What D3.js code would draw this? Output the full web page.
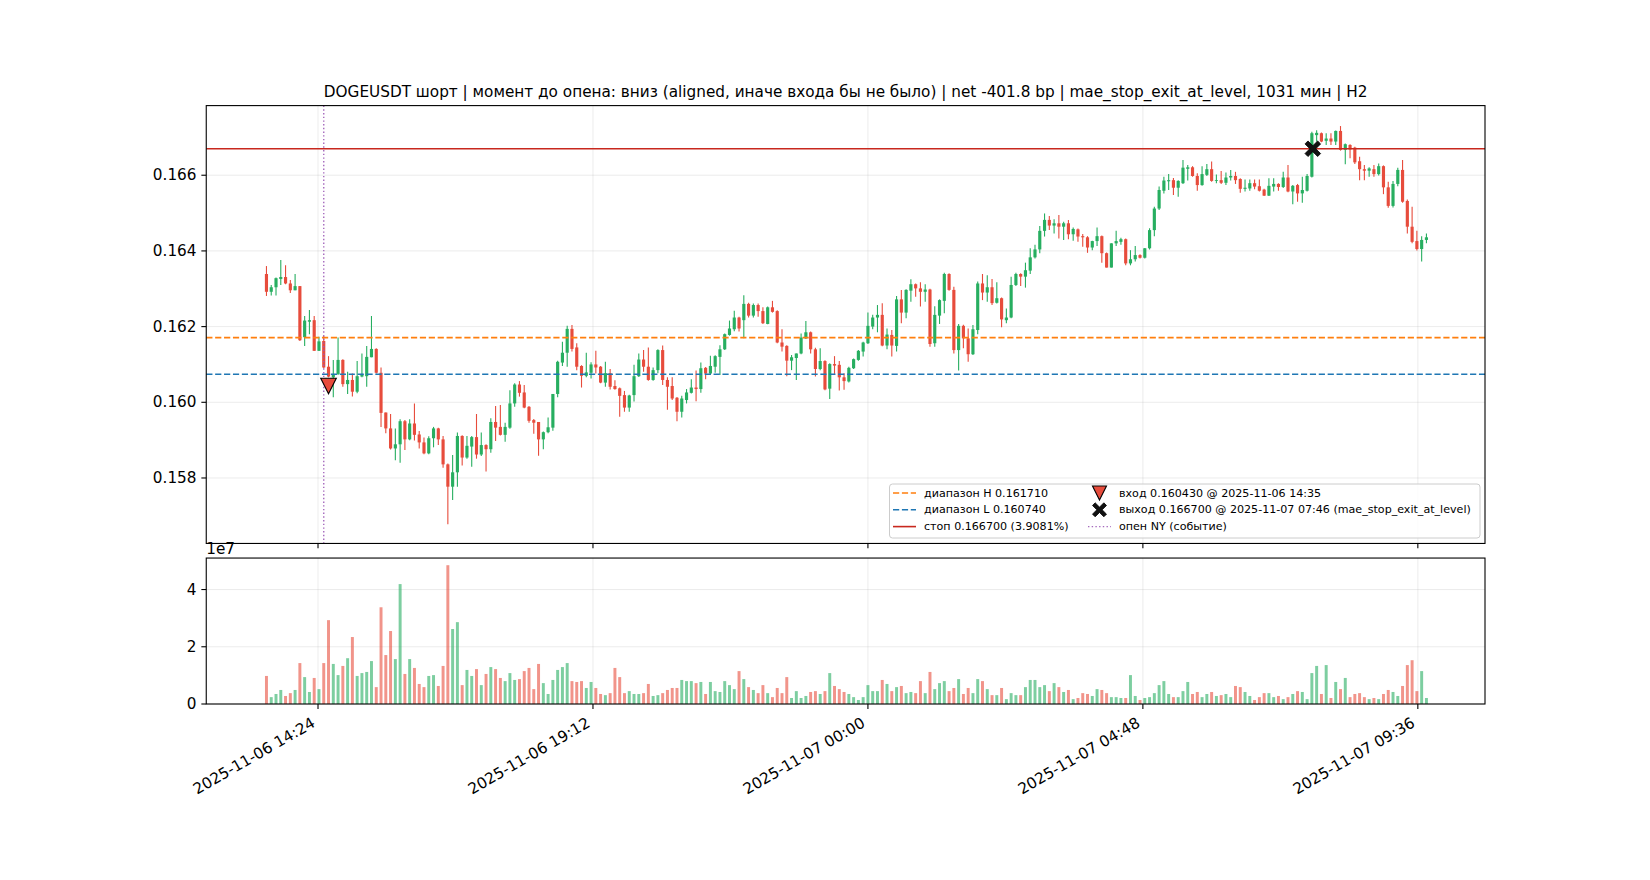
<!DOCTYPE html>
<html><head><meta charset="utf-8">
<script src="https://cdn.jsdelivr.net/npm/d3@7"></script>
<style>body{margin:0;background:#fff}svg{display:block}text{font-family:"DejaVu Sans",sans-serif;fill:#000}</style>
</head><body><svg id="c" width="1650" height="880"></svg>
<script>
// ---------------- data ----------------
const startTime = "2025-11-06 13:30";
const stepMinutes = 5;
const opens = [
0.16339,0.16292,0.16304,0.16326,0.16331,0.16314,0.16296,0.16307,0.16172,0.16213,
0.16217,0.16136,0.16162,0.16094,0.16066,0.16075,0.16112,0.16048,0.16059,0.16028,
0.16068,0.16069,0.16119,0.16141,0.16078,0.15973,0.15931,0.15878,0.15889,0.15950,
0.15902,0.15944,0.15915,0.15894,0.15865,0.15905,0.15931,0.15902,0.15836,0.15777,
0.15815,0.15911,0.15854,0.15883,0.15908,0.15862,0.15887,0.15876,0.15948,0.15935,
0.15914,0.15933,0.15997,0.16047,0.16026,0.15988,0.15953,0.15948,0.15902,0.15921,
0.15933,0.16022,0.16105,0.16131,0.16194,0.16145,0.16096,0.16070,0.16078,0.16100,
0.16094,0.16052,0.16077,0.16043,0.16037,0.16019,0.15986,0.16019,0.16069,0.16113,
0.16094,0.16059,0.16085,0.16138,0.16059,0.16043,0.16012,0.15975,0.16006,0.16025,
0.16039,0.16035,0.16091,0.16076,0.16094,0.16120,0.16140,0.16178,0.16193,0.16224,
0.16217,0.16260,0.16229,0.16257,0.16241,0.16207,0.16251,0.16241,0.16158,0.16149,
0.16110,0.16117,0.16129,0.16169,0.16185,0.16140,0.16088,0.16109,0.16036,0.16101,
0.16099,0.16066,0.16055,0.16090,0.16112,0.16134,0.16156,0.16200,0.16224,0.16231,
0.16150,0.16178,0.16149,0.16272,0.16237,0.16295,0.16312,0.16301,0.16292,0.16298,
0.16156,0.16229,0.16268,0.16339,0.16297,0.16138,0.16202,0.16169,0.16127,0.16191,
0.16314,0.16290,0.16304,0.16263,0.16275,0.16217,0.16224,0.16310,0.16339,0.16332,
0.16348,0.16383,0.16404,0.16453,0.16482,0.16467,0.16473,0.16464,0.16473,0.16444,
0.16457,0.16439,0.16436,0.16409,0.16426,0.16439,0.16394,0.16356,0.16420,0.16424,
0.16431,0.16367,0.16378,0.16389,0.16382,0.16407,0.16455,0.16512,0.16559,0.16584,
0.16587,0.16567,0.16579,0.16617,0.16621,0.16598,0.16574,0.16601,0.16616,0.16585,
0.16587,0.16580,0.16594,0.16598,0.16590,0.16564,0.16565,0.16579,0.16571,0.16562,
0.16546,0.16570,0.16577,0.16569,0.16594,0.16557,0.16574,0.16552,0.16559,0.16596,
0.16706,0.16711,0.16691,0.16697,0.16689,0.16717,0.16667,0.16680,0.16673,0.16637,
0.16616,0.16612,0.16616,0.16603,0.16624,0.16568,0.16519,0.16577,0.16614,0.16532,
0.16464,0.16426,0.16405,0.16429];
const highs = [
0.16360,0.16310,0.16330,0.16376,0.16362,0.16323,0.16339,0.16307,0.16228,0.16244,
0.16228,0.16173,0.16175,0.16122,0.16112,0.16171,0.16114,0.16081,0.16076,0.16109,
0.16129,0.16149,0.16228,0.16143,0.16092,0.15973,0.15969,0.15931,0.15955,0.15953,
0.15955,0.15997,0.15924,0.15907,0.15910,0.15935,0.15933,0.15911,0.15838,0.15861,
0.15920,0.15913,0.15911,0.15911,0.15969,0.15920,0.15889,0.15958,0.15990,0.15993,
0.15946,0.16032,0.16050,0.16056,0.16046,0.15990,0.15956,0.15948,0.15923,0.15960,
0.16022,0.16110,0.16160,0.16202,0.16204,0.16156,0.16098,0.16131,0.16106,0.16136,
0.16096,0.16107,0.16088,0.16058,0.16039,0.16030,0.16020,0.16099,0.16129,0.16138,
0.16145,0.16092,0.16140,0.16150,0.16066,0.16066,0.16014,0.16017,0.16035,0.16061,
0.16084,0.16105,0.16093,0.16123,0.16124,0.16151,0.16182,0.16216,0.16242,0.16226,
0.16283,0.16263,0.16261,0.16261,0.16251,0.16253,0.16268,0.16243,0.16193,0.16151,
0.16125,0.16129,0.16182,0.16215,0.16187,0.16144,0.16143,0.16111,0.16103,0.16122,
0.16109,0.16077,0.16094,0.16116,0.16138,0.16160,0.16237,0.16231,0.16257,0.16262,
0.16195,0.16191,0.16281,0.16297,0.16299,0.16325,0.16314,0.16317,0.16312,0.16300,
0.16254,0.16272,0.16342,0.16341,0.16305,0.16207,0.16205,0.16195,0.16204,0.16319,
0.16339,0.16336,0.16326,0.16317,0.16277,0.16248,0.16332,0.16342,0.16341,0.16369,
0.16407,0.16416,0.16466,0.16499,0.16492,0.16484,0.16495,0.16477,0.16482,0.16462,
0.16459,0.16445,0.16439,0.16427,0.16462,0.16441,0.16396,0.16420,0.16453,0.16435,
0.16433,0.16402,0.16413,0.16391,0.16408,0.16460,0.16517,0.16570,0.16596,0.16603,
0.16593,0.16587,0.16640,0.16627,0.16624,0.16605,0.16624,0.16630,0.16636,0.16602,
0.16611,0.16607,0.16614,0.16609,0.16592,0.16589,0.16589,0.16589,0.16589,0.16564,
0.16592,0.16592,0.16579,0.16609,0.16627,0.16574,0.16577,0.16596,0.16603,0.16715,
0.16719,0.16713,0.16711,0.16711,0.16718,0.16730,0.16684,0.16682,0.16675,0.16649,
0.16627,0.16621,0.16627,0.16631,0.16626,0.16583,0.16585,0.16620,0.16640,0.16536,
0.16517,0.16453,0.16439,0.16446];
const lows = [
0.16281,0.16282,0.16282,0.16310,0.16312,0.16289,0.16296,0.16162,0.16149,0.16180,
0.16136,0.16136,0.16090,0.16066,0.16013,0.16072,0.16041,0.16022,0.16015,0.16024,
0.16066,0.16041,0.16119,0.16076,0.15935,0.15918,0.15875,0.15847,0.15840,0.15874,
0.15900,0.15899,0.15878,0.15863,0.15863,0.15881,0.15887,0.15827,0.15678,0.15742,
0.15777,0.15833,0.15851,0.15830,0.15851,0.15858,0.15817,0.15867,0.15898,0.15912,
0.15896,0.15930,0.15988,0.16015,0.15984,0.15946,0.15917,0.15859,0.15876,0.15918,
0.15925,0.16013,0.16096,0.16094,0.16134,0.16085,0.16039,0.16066,0.16063,0.16076,
0.16050,0.16041,0.16034,0.16033,0.15962,0.15975,0.15975,0.16002,0.16067,0.16081,
0.16057,0.16057,0.16077,0.16046,0.15980,0.16006,0.15950,0.15960,0.15997,0.16023,
0.16003,0.16025,0.16061,0.16072,0.16078,0.16072,0.16138,0.16176,0.16188,0.16187,
0.16169,0.16224,0.16224,0.16226,0.16207,0.16206,0.16237,0.16156,0.16134,0.16069,
0.16085,0.16059,0.16127,0.16167,0.16129,0.16068,0.16085,0.16032,0.16009,0.16075,
0.16031,0.16033,0.16052,0.16088,0.16110,0.16121,0.16154,0.16193,0.16185,0.16148,
0.16140,0.16121,0.16134,0.16209,0.16222,0.16266,0.16279,0.16253,0.16266,0.16147,
0.16147,0.16207,0.16235,0.16295,0.16129,0.16084,0.16143,0.16107,0.16125,0.16180,
0.16270,0.16266,0.16257,0.16261,0.16198,0.16209,0.16222,0.16307,0.16307,0.16303,
0.16339,0.16380,0.16394,0.16438,0.16455,0.16446,0.16433,0.16429,0.16431,0.16427,
0.16424,0.16411,0.16395,0.16402,0.16413,0.16369,0.16356,0.16356,0.16413,0.16416,
0.16362,0.16362,0.16372,0.16380,0.16380,0.16404,0.16439,0.16508,0.16552,0.16561,
0.16548,0.16543,0.16577,0.16586,0.16596,0.16559,0.16572,0.16598,0.16583,0.16579,
0.16577,0.16574,0.16586,0.16577,0.16554,0.16557,0.16559,0.16563,0.16557,0.16545,
0.16545,0.16557,0.16559,0.16566,0.16555,0.16523,0.16530,0.16527,0.16557,0.16594,
0.16689,0.16687,0.16680,0.16680,0.16680,0.16665,0.16629,0.16645,0.16630,0.16587,
0.16587,0.16596,0.16596,0.16599,0.16550,0.16514,0.16515,0.16571,0.16527,0.16446,
0.16420,0.16401,0.16372,0.16420];
const closes = [
0.16292,0.16304,0.16328,0.16331,0.16314,0.16296,0.16307,0.16164,0.16216,0.16217,
0.16136,0.16161,0.16092,0.16068,0.16075,0.16112,0.16048,0.16059,0.16028,0.16069,
0.16075,0.16120,0.16141,0.16078,0.15972,0.15931,0.15878,0.15889,0.15950,0.15902,
0.15944,0.15914,0.15894,0.15865,0.15905,0.15931,0.15902,0.15836,0.15777,0.15815,
0.15911,0.15854,0.15885,0.15908,0.15862,0.15887,0.15876,0.15948,0.15933,0.15914,
0.15935,0.15997,0.16047,0.16025,0.15986,0.15951,0.15946,0.15902,0.15921,0.15934,
0.16022,0.16107,0.16131,0.16194,0.16141,0.16094,0.16070,0.16079,0.16100,0.16092,
0.16052,0.16077,0.16041,0.16035,0.16017,0.15986,0.16018,0.16069,0.16113,0.16094,
0.16059,0.16085,0.16138,0.16059,0.16041,0.16010,0.15975,0.16010,0.16026,0.16039,
0.16035,0.16090,0.16076,0.16096,0.16122,0.16140,0.16180,0.16195,0.16224,0.16195,
0.16260,0.16229,0.16257,0.16241,0.16209,0.16251,0.16239,0.16158,0.16147,0.16110,
0.16119,0.16129,0.16171,0.16185,0.16140,0.16088,0.16109,0.16034,0.16101,0.16097,
0.16066,0.16056,0.16091,0.16114,0.16136,0.16158,0.16202,0.16224,0.16231,0.16150,
0.16179,0.16150,0.16272,0.16237,0.16297,0.16312,0.16301,0.16292,0.16298,0.16154,
0.16231,0.16270,0.16339,0.16297,0.16138,0.16202,0.16169,0.16127,0.16193,0.16314,
0.16290,0.16304,0.16262,0.16275,0.16219,0.16224,0.16310,0.16339,0.16332,0.16349,
0.16383,0.16404,0.16453,0.16482,0.16467,0.16473,0.16464,0.16473,0.16444,0.16458,
0.16438,0.16436,0.16409,0.16426,0.16439,0.16394,0.16356,0.16420,0.16426,0.16431,
0.16367,0.16378,0.16389,0.16382,0.16407,0.16455,0.16512,0.16561,0.16586,0.16587,
0.16567,0.16585,0.16620,0.16621,0.16598,0.16574,0.16603,0.16616,0.16585,0.16587,
0.16580,0.16594,0.16598,0.16587,0.16564,0.16567,0.16579,0.16570,0.16559,0.16546,
0.16572,0.16577,0.16569,0.16594,0.16557,0.16572,0.16552,0.16561,0.16598,0.16711,
0.16712,0.16689,0.16697,0.16689,0.16717,0.16667,0.16682,0.16668,0.16634,0.16616,
0.16612,0.16618,0.16603,0.16624,0.16568,0.16519,0.16577,0.16614,0.16530,0.16464,
0.16424,0.16405,0.16429,0.16436];
// volume, in units of 1e7
const volumes = [
0.98,0.24,0.35,0.49,0.28,0.38,0.49,1.43,0.94,0.42,
0.91,0.52,1.43,2.93,1.40,1.01,1.33,1.60,2.34,0.98,
1.08,1.12,1.50,0.59,3.38,1.71,2.55,1.57,4.19,1.05,
1.57,1.26,0.70,0.59,0.98,1.01,0.63,1.33,4.85,2.62,
2.86,0.66,1.19,0.98,1.22,0.66,1.05,1.29,1.22,0.91,
0.80,1.08,0.84,0.87,1.15,1.26,0.52,1.40,0.73,0.35,
0.84,1.19,1.29,1.43,0.80,0.77,0.80,0.56,0.77,0.56,
0.35,0.31,0.38,1.26,0.94,0.38,0.45,0.35,0.35,0.38,
0.70,0.28,0.31,0.38,0.49,0.56,0.56,0.84,0.80,0.80,
0.73,0.77,0.35,0.77,0.45,0.42,0.80,0.66,0.52,1.15,
0.87,0.59,0.49,0.38,0.66,0.38,0.24,0.56,0.38,0.94,
0.21,0.45,0.21,0.28,0.42,0.45,0.35,0.45,1.08,0.63,
0.52,0.42,0.35,0.24,0.14,0.24,0.66,0.45,0.45,0.84,
0.70,0.45,0.59,0.63,0.38,0.42,0.38,0.80,0.38,1.12,
0.52,0.73,0.80,0.45,0.56,0.87,0.35,0.56,0.38,0.87,
0.80,0.52,0.31,0.31,0.56,0.17,0.38,0.31,0.31,0.59,
0.84,0.84,0.59,0.66,0.45,0.73,0.59,0.42,0.49,0.17,
0.21,0.38,0.35,0.28,0.52,0.49,0.38,0.24,0.24,0.21,
0.21,1.01,0.28,0.14,0.21,0.24,0.38,0.66,0.80,0.35,
0.24,0.24,0.45,0.77,0.35,0.42,0.24,0.35,0.42,0.28,
0.31,0.35,0.24,0.63,0.59,0.42,0.28,0.14,0.24,0.38,
0.38,0.24,0.28,0.17,0.24,0.35,0.45,0.42,0.17,1.08,
1.33,0.35,1.36,0.21,0.77,0.52,0.91,0.24,0.35,0.38,
0.24,0.17,0.21,0.17,0.35,0.49,0.42,0.28,0.63,1.36,
1.53,0.45,1.15,0.21];
const xTickLabels = ["2025-11-06 14:24","2025-11-06 19:12","2025-11-07 00:00","2025-11-07 04:48","2025-11-07 09:36"];
const priceTicks = [0.158,0.160,0.162,0.164,0.166];
const priceTickLabels = ["0.158","0.160","0.162","0.164","0.166"];
const volTicks = [0,2,4];
const volTickLabels = ["0","2","4"];
const levelNames = ["диапазон H 0.161710","диапазон L 0.160740","стоп 0.166700 (3.9081%)"];
const levelValues = [0.161710,0.160740,0.166700];
const entryTime = "2025-11-06 14:35", entryPrice = 0.160430;
const exitTime = "2025-11-07 07:46", exitPrice = 0.166700;
const nyOpenTime = "2025-11-06 14:30";
const entryLabel = "вход 0.160430 @ 2025-11-06 14:35";
const exitLabel = "выход 0.166700 @ 2025-11-07 07:46 (mae_stop_exit_at_level)";
const nyLabel = "опен NY (событие)";
const titleText = "DOGEUSDT шорт | момент до опена: вниз (aligned, иначе входа бы не было) | net -401.8 bp | mae_stop_exit_at_level, 1031 мин | H2";

// ---------------- layout ----------------
const parseT = d3.utcParse("%Y-%m-%d %H:%M");
const t0 = parseT(startTime);
const times = opens.map((_, i) => new Date(t0.getTime() + i * stepMinutes * 60000));
const L = 206.25, R = 1485, pTop = 105.6, pBot = 543.45, vTop = 558.05, vBot = 704;
const GREEN = "#27ae60", RED = "#e74c3c";
const FS = 15.28;

const x = d3.scaleUtc()
  .domain([new Date(Date.UTC(2025,10,6,12,26,56)), new Date(Date.UTC(2025,10,7,10,46,21))])
  .range([L, R]);
const y = d3.scaleLinear().domain([0.15627, 0.16784]).range([pBot, pTop]);
const yv = d3.scaleLinear().domain([0, 5.1]).range([vBot, vTop]);
const stepPx = x(new Date(t0.getTime() + stepMinutes*60000)) - x(t0);
const bodyW = stepPx * 0.66, volW = stepPx * 0.62;

const svg = d3.select("#c");
svg.append("rect").attr("width",1650).attr("height",880).attr("fill","#fff");

const xTicks = xTickLabels.map(parseT);

function grid(g, top, bot, yTicks, ys) {
  g.selectAll(".gx").data(xTicks).join("line")
    .attr("x1", d => x(d)).attr("x2", d => x(d)).attr("y1", top).attr("y2", bot)
    .attr("stroke", "#b0b0b0").attr("stroke-opacity", 0.3).attr("stroke-width", 0.8);
  g.selectAll(".gy").data(yTicks).join("line")
    .attr("x1", L).attr("x2", R).attr("y1", d => ys(d)).attr("y2", d => ys(d))
    .attr("stroke", "#b0b0b0").attr("stroke-opacity", 0.3).attr("stroke-width", 0.8);
}

// ---- price panel ----
const gp = svg.append("g");
grid(gp, pTop, pBot, priceTicks, y);

const idx = d3.range(opens.length);
gp.selectAll(".wick").data(idx).join("line")
  .attr("x1", i => x(times[i])).attr("x2", i => x(times[i]))
  .attr("y1", i => y(highs[i])).attr("y2", i => y(lows[i]))
  .attr("stroke", i => closes[i] >= opens[i] ? GREEN : RED).attr("stroke-width", 1.1);
gp.selectAll(".body").data(idx).join("rect")
  .attr("x", i => x(times[i]) - bodyW/2).attr("width", bodyW)
  .attr("y", i => y(Math.max(opens[i], closes[i])))
  .attr("height", i => Math.max(0.8, Math.abs(y(opens[i]) - y(closes[i]))))
  .attr("fill", i => closes[i] >= opens[i] ? GREEN : RED);

const levelColors = ["#ff7f0e", "#1f77b4", "#c8281e"];
const levelDash = ["6.2,2.7", "6.2,2.7", null];
gp.selectAll(".lvl").data(levelValues).join("line")
  .attr("x1", L).attr("x2", R).attr("y1", d => y(d)).attr("y2", d => y(d))
  .attr("stroke", (d,i) => levelColors[i]).attr("stroke-width", 1.6)
  .attr("stroke-dasharray", (d,i) => levelDash[i]);

const nyX = x(parseT(nyOpenTime));
gp.append("line").attr("x1", nyX).attr("x2", nyX).attr("y1", pTop).attr("y2", pBot)
  .attr("stroke", "#9b59b6").attr("stroke-opacity", 0.9).attr("stroke-width", 1.4)
  .attr("stroke-dasharray", "1.4,2.3");

function triDown(g, cx, cy, s) {
  g.append("path").attr("d", `M${cx-s},${cy-s}L${cx+s},${cy-s}L${cx},${cy+s}Z`)
    .attr("fill", RED).attr("stroke", "#000").attr("stroke-width", 1.1);
}
function xMark(g, cx, cy, s) {
  const a = s, b = s*0.38;
  const pts = [[0,b],[a-b,a],[a,a-b],[b,0],[a,-(a-b)],[a-b,-a],[0,-b],[-(a-b),-a],[-a,-(a-b)],[-b,0],[-a,a-b],[-(a-b),a]];
  g.append("path").attr("d", "M" + pts.map(p => (cx+p[0]) + "," + (cy+p[1])).join("L") + "Z")
    .attr("fill", "#111").attr("stroke", "#000").attr("stroke-width", 0.8);
}
triDown(gp, x(parseT(entryTime)), y(entryPrice), 7.8);
xMark(gp, x(parseT(exitTime)), y(exitPrice), 7.8);

// price axes frame & ticks
gp.append("rect").attr("x", L).attr("y", pTop).attr("width", R-L).attr("height", pBot-pTop)
  .attr("fill", "none").attr("stroke", "#000").attr("stroke-width", 1.1);
gp.selectAll(".pyt").data(priceTicks).join("line")
  .attr("x1", L-4.9).attr("x2", L).attr("y1", d => y(d)).attr("y2", d => y(d)).attr("stroke","#000").attr("stroke-width",1.1);
gp.selectAll(".pyl").data(priceTicks).join("text")
  .attr("x", L-9.7).attr("y", d => y(d)).attr("text-anchor","end").attr("dominant-baseline","central")
  .attr("font-size", FS).text((d,i) => priceTickLabels[i]);
gp.selectAll(".pxt").data(xTicks).join("line")
  .attr("x1", d => x(d)).attr("x2", d => x(d)).attr("y1", pBot).attr("y2", pBot+4.9).attr("stroke","#000").attr("stroke-width",1.1);

// title
svg.append("text").attr("x", (L+R)/2).attr("y", 97).attr("text-anchor","middle")
  .attr("font-size", 15.28).text(titleText);

// legend
const lg = svg.append("g");
lg.append("rect").attr("x", 889.5).attr("y", 484).attr("width", 590.5).attr("height", 54).attr("rx", 3)
  .attr("fill", "#fff").attr("fill-opacity", 0.8).attr("stroke", "#cccccc").attr("stroke-width", 1);
const rowY = [493, 509.8, 526.6];
const LFS = 11.1;
levelValues.forEach((v, i) => {
  lg.append("line").attr("x1", 893).attr("x2", 916).attr("y1", rowY[i]).attr("y2", rowY[i])
    .attr("stroke", levelColors[i]).attr("stroke-width", 1.6).attr("stroke-dasharray", levelDash[i]);
  lg.append("text").attr("x", 924).attr("y", rowY[i]).attr("dominant-baseline","central")
    .attr("font-size", LFS).text(levelNames[i]);
});
triDown(lg, 1099.5, rowY[0], 7);
lg.append("text").attr("x", 1119).attr("y", rowY[0]).attr("dominant-baseline","central").attr("font-size", LFS).text(entryLabel);
xMark(lg, 1099.5, rowY[1], 7);
lg.append("text").attr("x", 1119).attr("y", rowY[1]).attr("dominant-baseline","central").attr("font-size", LFS).text(exitLabel);
lg.append("line").attr("x1", 1088).attr("x2", 1111).attr("y1", rowY[2]).attr("y2", rowY[2])
  .attr("stroke", "#9b59b6").attr("stroke-opacity", 0.9).attr("stroke-width", 1.4).attr("stroke-dasharray", "1.4,2.3");
lg.append("text").attr("x", 1119).attr("y", rowY[2]).attr("dominant-baseline","central").attr("font-size", LFS).text(nyLabel);

// ---- volume panel ----
const gv = svg.append("g");
grid(gv, vTop, vBot, volTicks, yv);
gv.selectAll(".vb").data(idx).join("rect")
  .attr("x", i => x(times[i]) - volW/2).attr("width", volW)
  .attr("y", i => yv(volumes[i])).attr("height", i => yv(0) - yv(volumes[i]))
  .attr("fill", i => closes[i] >= opens[i] ? GREEN : RED).attr("fill-opacity", 0.6);
gv.append("rect").attr("x", L).attr("y", vTop).attr("width", R-L).attr("height", vBot-vTop)
  .attr("fill", "none").attr("stroke", "#000").attr("stroke-width", 1.1);
gv.selectAll(".vyt").data(volTicks).join("line")
  .attr("x1", L-4.9).attr("x2", L).attr("y1", d => yv(d)).attr("y2", d => yv(d)).attr("stroke","#000").attr("stroke-width",1.1);
gv.selectAll(".vyl").data(volTicks).join("text")
  .attr("x", L-9.7).attr("y", d => yv(d)).attr("text-anchor","end").attr("dominant-baseline","central")
  .attr("font-size", FS).text((d,i) => volTickLabels[i]);
gv.append("text").attr("x", L).attr("y", 553.5).attr("font-size", FS).text("1e7");
gv.selectAll(".vxt").data(xTicks).join("line")
  .attr("x1", d => x(d)).attr("x2", d => x(d)).attr("y1", vBot).attr("y2", vBot+4.9).attr("stroke","#000").attr("stroke-width",1.1);
gv.selectAll(".vxl").data(xTicks).join("text")
  .attr("text-anchor", "end")
  .attr("transform", d => `translate(${x(d)-1.8},${726}) rotate(-30)`)
  .attr("font-size", FS).text((d,i) => xTickLabels[i]);
</script></body></html>
